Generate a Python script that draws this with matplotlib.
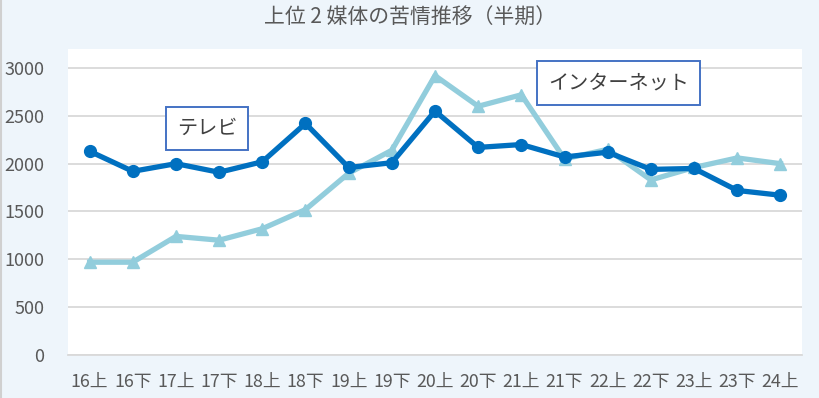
import matplotlib.pyplot as plt

plt.rcParams['font.family'] = ['Noto Sans CJK JP', 'DejaVu Sans']

# half-year periods
periods = ["16上", "16下", "17上", "17下", "18上", "18下", "19上", "19下", "20上",
           "20下", "21上", "21下", "22上", "22下", "23上", "23下", "24上"]
tv = [2130, 1920, 2000, 1910, 2020, 2420, 1960, 2010, 2550,
      2170, 2200, 2070, 2120, 1940, 1950, 1720, 1670]
internet = [970, 970, 1240, 1200, 1320, 1520, 1900, 2140, 2920,
            2600, 2720, 2050, 2150, 1830, 1960, 2060, 2000]
yticks = [0, 500, 1000, 1500, 2000, 2500, 3000]

bg = "#EEF5FB"
text_col = "#595959"

fig = plt.figure(figsize=(8.2, 3.98), dpi=100, facecolor=bg)
ax = fig.add_axes([68 / 820, 1 - 355 / 398, 734 / 820, 306 / 398])
ax.set_facecolor("white")

x = range(len(periods))
ax.plot(x, internet, color="#92CDDC", lw=3.8, marker="^", ms=9, zorder=3)
ax.plot(x, tv, color="#0070C0", lw=3.8, marker="o", ms=8.5, zorder=4)

ax.set_xlim(-0.5, len(periods) - 0.5)
ax.set_ylim(0, 3000 * 306 / 287)
ax.set_yticks(yticks)
ax.set_xticks(list(x))
ax.set_xticklabels(periods)
ax.grid(axis="y", color="#D9D9D9", lw=1.3)
ax.set_axisbelow(True)
for s in ["top", "right", "left"]:
    ax.spines[s].set_visible(False)
ax.spines["bottom"].set_color("#D9D9D9")
ax.spines["bottom"].set_linewidth(1.3)
ax.tick_params(length=0, colors=text_col)
ax.tick_params(axis="x", pad=13, labelsize=12.8)
ax.tick_params(axis="y", pad=17, labelsize=13)

fig.text(0.5, 1 - 18 / 398, "上位 2 媒体の苦情推移（半期）", ha="center", va="center",
         fontsize=15, color=text_col)

box = dict(boxstyle="square,pad=0.55", fc="white", ec="#4472C4", lw=1.4)
ax.text(2.72, 2367, "テレビ", ha="center", va="center", fontsize=14.5, color="#404040", bbox=box)
ax.text(12.26, 2843, "インターネット", ha="center", va="center", fontsize=14.5,
        color="#404040", bbox=box)

# thin chart-area border on the left edge
fig.add_artist(plt.Line2D([0.001, 0.001], [0, 1], transform=fig.transFigure,
                          color="#D0D0D0", lw=1.5))

fig.savefig("out.png", dpi=100, facecolor=bg)
